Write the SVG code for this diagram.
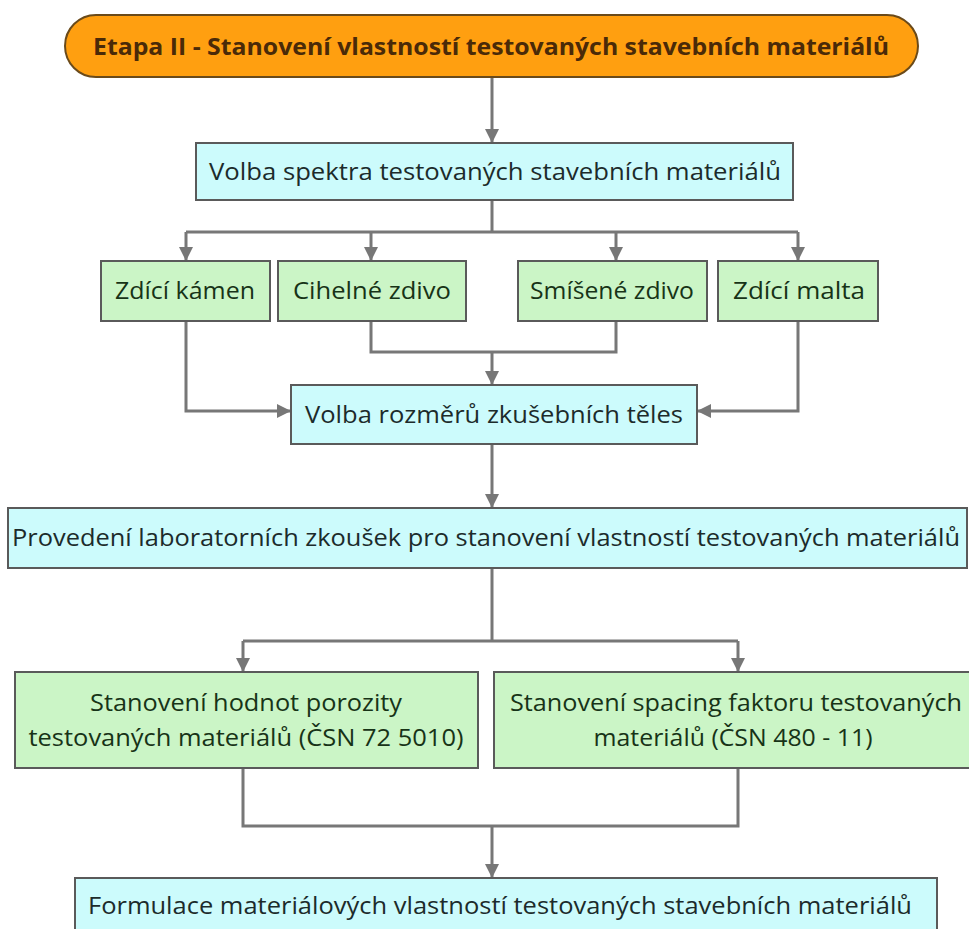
<svg xmlns="http://www.w3.org/2000/svg" width="969" height="929" viewBox="0 0 969 929">
<defs>
<marker id="ah" markerWidth="14" markerHeight="14" refX="13" refY="7" orient="auto" markerUnits="userSpaceOnUse" viewBox="0 0 14 14">
<path d="M0,0 L14,7 L0,14 Z" fill="#777"/>
</marker>
<style>
.cy{fill:#ccfbfc;stroke:#5a5a5a;stroke-width:2}
.gr{fill:#cbf5c6;stroke:#5a5a5a;stroke-width:2}
.t{font-family:"Open Sans","Noto Sans","DejaVu Sans",sans-serif;font-size:23.5px;fill:#1c2b2b;text-anchor:middle}
.tg{fill:#173317}
.c{fill:none;stroke:#777;stroke-width:3}
.ca{fill:none;stroke:#777;stroke-width:3;marker-end:url(#ah)}
</style>
</defs>
<rect width="969" height="929" fill="#ffffff"/>
<g id="connectors">
<path class="ca" d="M492,77 L492,142"/>
<path class="c" d="M492,200 L492,232"/>
<path class="c" d="M186,232 L798,232"/>
<path class="ca" d="M186,232 L186,260"/>
<path class="ca" d="M371,232 L371,260"/>
<path class="ca" d="M616,232 L616,260"/>
<path class="ca" d="M798,232 L798,260"/>
<path class="c" d="M371,321 L371,352 L616,352 L616,321"/>
<path class="ca" d="M492,352 L492,384"/>
<path class="ca" d="M186,321 L186,411 L290,411"/>
<path class="ca" d="M798,321 L798,411 L698,411"/>
<path class="ca" d="M492,444 L492,507"/>
<path class="c" d="M492,568 L492,641"/>
<path class="c" d="M243,641 L738,641"/>
<path class="ca" d="M243,641 L243,671"/>
<path class="ca" d="M738,641 L738,671"/>
<path class="c" d="M243,768 L243,826 L738,826 L738,768"/>
<path class="ca" d="M492,826 L492,877"/>
</g>
<g id="n-title">
<rect x="65" y="15" width="853" height="62" rx="31" ry="31" fill="#ff9f10" stroke="#6a4a1a" stroke-width="2"/>
<text x="491" y="55" class="t" style="font-weight:bold;fill:#4a2a08;font-size:23px" textLength="796" lengthAdjust="spacingAndGlyphs">Etapa II - Stanovení vlastností testovaných stavebních materiálů</text>
</g>
<g id="n-volba-spektra">
<rect class="cy" x="196" y="143" width="597" height="57"/>
<text x="495" y="180" class="t" textLength="572" lengthAdjust="spacingAndGlyphs">Volba spektra testovaných stavebních materiálů</text>
</g>
<g id="n-zdici-kamen">
<rect class="gr" x="101" y="261" width="169" height="60"/>
<text x="185" y="299" class="t tg" textLength="140" lengthAdjust="spacingAndGlyphs">Zdící kámen</text>
</g>
<g id="n-cihelne">
<rect class="gr" x="278" y="261" width="188" height="60"/>
<text x="372" y="299" class="t tg" textLength="158" lengthAdjust="spacingAndGlyphs">Cihelné zdivo</text>
</g>
<g id="n-smisene">
<rect class="gr" x="518" y="261" width="189" height="60"/>
<text x="612" y="299" class="t tg" textLength="164" lengthAdjust="spacingAndGlyphs">Smíšené zdivo</text>
</g>
<g id="n-zdici-malta">
<rect class="gr" x="718" y="261" width="160" height="60"/>
<text x="799" y="299" class="t tg" textLength="132" lengthAdjust="spacingAndGlyphs">Zdící malta</text>
</g>
<g id="n-volba-rozmeru">
<rect class="cy" x="291" y="385" width="406" height="59"/>
<text x="494" y="423" class="t" textLength="378" lengthAdjust="spacingAndGlyphs">Volba rozměrů zkušebních těles</text>
</g>
<g id="n-provedeni">
<rect class="cy" x="8" y="508" width="959" height="60"/>
<text x="486" y="546" class="t" textLength="948" lengthAdjust="spacingAndGlyphs">Provedení laboratorních zkoušek pro stanovení vlastností testovaných materiálů</text>
</g>
<g id="n-porozita">
<rect class="gr" x="15" y="672" width="463" height="96"/>
<text x="246" y="711" class="t tg" textLength="312" lengthAdjust="spacingAndGlyphs">Stanovení hodnot porozity</text>
<text x="246" y="746" class="t tg" textLength="435" lengthAdjust="spacingAndGlyphs">testovaných materiálů (ČSN 72 5010)</text>
</g>
<g id="n-spacing">
<rect class="gr" x="494" y="672" width="480" height="96"/>
<text x="736" y="711" class="t tg" textLength="452" lengthAdjust="spacingAndGlyphs">Stanovení spacing faktoru testovaných</text>
<text x="733" y="746" class="t tg" textLength="279" lengthAdjust="spacingAndGlyphs">materiálů (ČSN 480 - 11)</text>
</g>
<g id="n-formulace">
<rect class="cy" x="75" y="878" width="862" height="60"/>
<text x="500" y="914" class="t" textLength="824" lengthAdjust="spacingAndGlyphs">Formulace materiálových vlastností testovaných stavebních materiálů</text>
</g>
</svg>
